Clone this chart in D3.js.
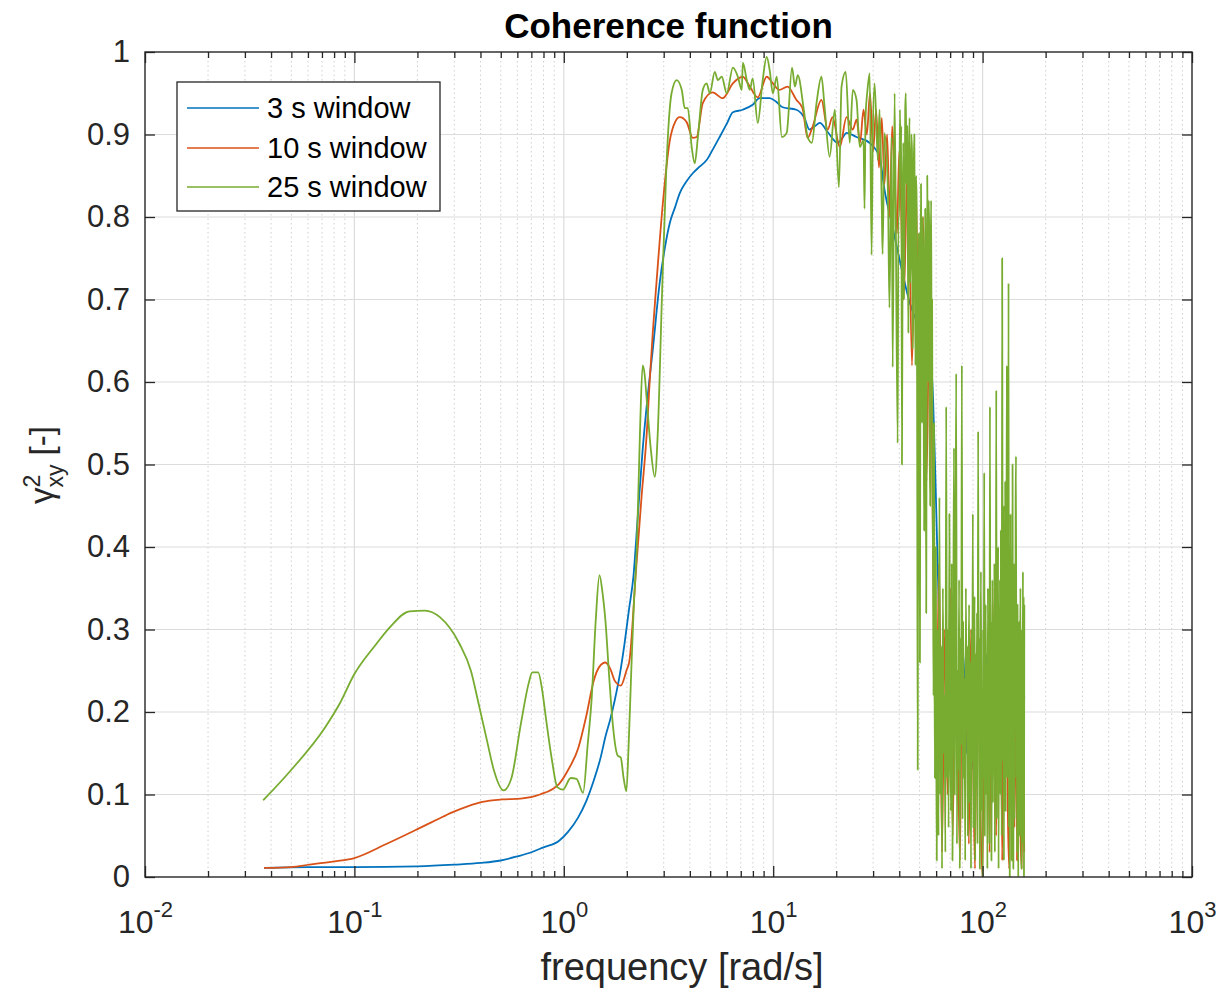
<!DOCTYPE html>
<html><head><meta charset="utf-8">
<script src="https://cdn.jsdelivr.net/npm/d3@7"></script>
<style>
html,body{margin:0;padding:0;background:#fff;}
svg{display:block;font-family:"Liberation Sans",Arial,Helvetica,sans-serif;}
</style></head>
<body>
<svg id="chart" width="1225" height="992"></svg>
<script>
// ---------------- DATA ----------------
const chartTitle = "Coherence function";
const xLabel = "frequency [rad/s]";
const seriesNames = ["3 s window", "10 s window", "25 s window"];
const xMajorTicks = [1e-2, 1e-1, 1e0, 1e1, 1e2, 1e3];
const xTickExponents = ["-2", "-1", "0", "1", "2", "3"];
const yTicks = [0, 0.1, 0.2, 0.3, 0.4, 0.5, 0.6, 0.7, 0.8, 0.9, 1];
const yTickLabels = ["0", "0.1", "0.2", "0.3", "0.4", "0.5", "0.6", "0.7", "0.8", "0.9", "1"];

// 3 s window [frequency rad/s, coherence]
const blue3s = [[0.037,0.011],[0.06,0.012],[0.1,0.012],[0.2,0.013],[0.3,0.015],[0.4,0.017],[0.5,0.02],[0.6,0.025],[0.7,0.03],[0.8,0.036],[0.95,0.044],[1.05,0.055],[1.17,0.072],[1.28,0.092],[1.39,0.117],[1.5,0.145],[1.58,0.17],[1.67,0.192],[1.75,0.214],[1.85,0.245],[1.95,0.283],[2.05,0.325],[2.15,0.364],[2.26,0.44],[2.38,0.518],[2.52,0.585],[2.66,0.639],[2.87,0.72],[3.05,0.765],[3.21,0.793],[3.4,0.812],[3.58,0.829],[3.85,0.843],[4.13,0.853],[4.45,0.861],[4.81,0.869],[5.15,0.882],[5.55,0.897],[6.0,0.913],[6.42,0.927],[7.16,0.93],[7.98,0.936],[8.62,0.944],[9.62,0.944],[10.3,0.94],[11.1,0.933],[12.9,0.93],[14.1,0.92],[14.9,0.906],[15.8,0.91],[16.7,0.914],[18.2,0.903],[20.3,0.89],[21.3,0.895],[22.4,0.902],[25,0.897],[28.8,0.89],[32.2,0.873],[34,0.833],[37,0.79],[40,0.75],[44.9,0.696],[50,0.665],[55.8,0.635],[58,0.58],[60,0.45],[63,0.25],[66,0.16],[69,0.26],[72,0.14],[75,0.22],[78,0.17],[81,0.27],[84,0.15],[87,0.24],[90,0.13],[93,0.20],[96,0.25],[99,0.14],[102,0.19],[105,0.27],[108,0.13],[111,0.22],[114,0.17],[117,0.25],[120,0.14],[123,0.23],[126,0.19],[129,0.27],[132,0.15],[135,0.21],[138,0.12],[141,0.23],[144,0.17],[147,0.25],[150,0.14],[153,0.20],[156,0.16],[158,0.22]];

// 10 s window
const red10s = [[0.037,0.011],[0.05,0.012],[0.061,0.015],[0.08,0.019],[0.1,0.023],[0.142,0.04],[0.2,0.058],[0.25,0.07],[0.291,0.078],[0.35,0.086],[0.408,0.091],[0.504,0.094],[0.623,0.095],[0.769,0.1],[0.95,0.113],[1.05,0.13],[1.175,0.157],[1.28,0.195],[1.39,0.238],[1.48,0.255],[1.58,0.26],[1.67,0.252],[1.75,0.238],[1.87,0.232],[1.99,0.25],[2.06,0.263],[2.21,0.37],[2.35,0.46],[2.49,0.538],[2.57,0.60],[2.66,0.66],[2.77,0.72],[2.98,0.82],[3.21,0.893],[3.4,0.915],[3.58,0.921],[3.86,0.915],[4.13,0.896],[4.31,0.897],[4.61,0.938],[5.14,0.951],[5.74,0.944],[6.42,0.962],[7.16,0.97],[7.73,0.958],[8.44,0.945],[9.31,0.97],[9.96,0.962],[10.7,0.954],[11.7,0.958],[12.9,0.942],[13.8,0.932],[14.6,0.896],[15.4,0.909],[17,0.942],[18.2,0.906],[19.2,0.921],[20.8,0.885],[22.4,0.921],[24,0.906],[25,0.918],[26,0.89],[27,0.93],[28,0.90],[29,0.95],[30,0.88],[31,0.93],[32,0.86],[33,0.92],[34,0.84],[35,0.90],[36,0.80],[37,0.91],[38,0.85],[39,0.78],[40,0.88],[42,0.70],[44,0.88],[46,0.62],[48,0.84],[50,0.55],[52,0.80],[54,0.48],[56,0.75],[58,0.40],[60,0.15],[62,0.38],[64,0.03],[66,0.30],[68,0.10],[70,0.35],[72,0.05],[74,0.28],[76,0.18],[78,0.02],[80,0.32],[82,0.12],[84,0.25],[86,0.04],[88,0.30],[90,0.15],[92,0.01],[94,0.27],[96,0.20],[98,0.06],[100,0.00],[102,0.31],[104,0.10],[106,0.24],[108,0.03],[110,0.29],[112,0.16],[114,0.35],[116,0.05],[118,0.22],[120,0.12],[122,0.30],[124,0.02],[126,0.26],[128,0.18],[130,0.33],[132,0.08],[134,0.01],[136,0.28],[138,0.14],[140,0.24],[142,0.06],[144,0.31],[146,0.02],[148,0.20],[150,0.27],[152,0.04],[154,0.01],[156,0.23],[158,0.03]];

// 25 s window, low/mid frequency part
const green25sLow = [[0.0367,0.093],[0.05,0.13],[0.0723,0.181],[0.085,0.21],[0.1,0.246],[0.125,0.28],[0.148,0.303],[0.183,0.322],[0.217,0.323],[0.256,0.315],[0.317,0.283],[0.36,0.25],[0.392,0.21],[0.43,0.165],[0.464,0.129],[0.515,0.105],[0.561,0.119],[0.623,0.185],[0.68,0.235],[0.707,0.248],[0.754,0.248],[0.79,0.225],[0.82,0.194],[0.88,0.14],[0.931,0.109],[0.99,0.106],[1.08,0.12],[1.15,0.119],[1.236,0.102],[1.3,0.16],[1.36,0.218],[1.42,0.31],[1.48,0.366],[1.53,0.345],[1.58,0.311],[1.65,0.24],[1.72,0.181],[1.81,0.147],[1.87,0.145],[1.93,0.12],[1.99,0.104],[2.04,0.16],[2.1,0.25],[2.16,0.33],[2.23,0.396],[2.31,0.538],[2.38,0.62],[2.43,0.61],[2.49,0.578],[2.6,0.52],[2.72,0.485],[2.81,0.538],[2.94,0.70],[3.09,0.861],[3.27,0.95],[3.46,0.966],[3.66,0.954],[3.78,0.932],[3.91,0.932],[4.08,0.885],[4.22,0.865],[4.37,0.897],[4.61,0.954],[4.81,0.962],[4.98,0.95],[5.26,0.976],[5.44,0.966],[5.68,0.97],[6.0,0.95],[6.42,0.981],[6.78,0.97],[7.08,0.954],[7.16,0.987],[7.48,0.966],[7.73,0.954],[7.98,0.968],[8.44,0.914],[8.91,0.966],[9.31,0.994],[9.62,0.978],[9.96,0.95],[10.4,0.97],[11.0,0.897],[11.6,0.902],[12.3,0.981],[12.7,0.958],[13.1,0.972],[14.0,0.93],[14.6,0.897],[15.3,0.89],[16.1,0.938],[17.0,0.97],[17.6,0.933],[18.6,0.873],[19.7,0.93],[20.6,0.836],[21.2,0.958],[22.2,0.976],[23.2,0.89],[24,0.954],[25,0.942],[25.9,0.885],[27,0.893],[27.3,0.81],[27.6,0.92],[28.2,0.954],[28.9,0.974],[29.5,0.754],[29.9,0.902],[30.5,0.962],[31.6,0.869],[32.2,0.93],[33,0.812],[33.3,0.755],[34,0.902],[35.3,0.833],[35.9,0.69],[36.8,0.897],[37.2,0.618],[38,0.95],[39.3,0.526],[39.6,0.80],
[40.0,0.80],[40.3,0.93],[40.6,0.86],[40.9,0.91],[41.2,0.50],[41.5,0.78],[41.8,0.89],[42.1,0.70],[42.4,0.78],[42.7,0.93],[43.0,0.95],[43.3,0.84],[43.6,0.91],[43.9,0.80],[44.2,0.66],[44.5,0.88],[44.8,0.92],[45.1,0.72],[45.4,0.76],[45.7,0.90],[46.0,0.88],[46.3,0.64],[46.6,0.70],[46.9,0.86],[47.2,0.90],[47.5,0.74],[47.8,0.62],[48.1,0.85],[48.4,0.82],[48.7,0.55],[49.0,0.13],[49.3,0.70],[49.6,0.78],[49.9,0.60],[50.2,0.26],[50.5,0.72],[50.8,0.84],[51.1,0.66],[51.4,0.55],[51.7,0.80],[52.0,0.76],[52.3,0.58],[52.6,0.42],[52.9,0.70],[53.2,0.81],[53.5,0.62],[53.8,0.32],[54.1,0.66],[54.4,0.85],[54.7,0.74],[55.0,0.60],[55.3,0.82],[55.6,0.78],[55.9,0.52],[56.2,0.45],[56.5,0.75],[56.8,0.82],[57.1,0.60],[57.4,0.70],[57.7,0.46],[58.0,0.38],[58.3,0.22],[58.6,0.55],[58.9,0.30],[59.2,0.12],[59.5,0.36],[59.8,0.40],[60.1,0.18],[60.4,0.02],[60.7,0.25]];

// 25 s window, high-frequency part on the FFT grid (start 61 rad/s, step 0.6 rad/s)
const green25sHFStart = 61.0;
const green25sHFStep = 0.6;
const green25sHF = [
0.30,0.05,0.46,0.10,0.28,0.01,0.35,0.15,0.22,0.03,0.57,0.12,0.30,0.06,0.44,0.18,
0.08,0.38,0.02,0.27,0.52,0.10,0.33,0.61,0.04,0.25,0.13,0.36,0.01,0.29,0.16,0.62,0.07,
0.31,0.12,0.24,0.02,0.35,0.18,0.28,0.05,0.22,0.33,0.09,0.26,0.01,0.30,0.14,0.44,0.06,0.23,0.34,0.02,0.27,0.11,0.32,0.04,0.54,0.17,0.29,0.01,0.25,0.37,0.08,0.21,0.00,
0.30,0.12,0.49,0.05,0.26,0.33,0.10,0.22,0.01,0.35,0.16,0.28,0.04,0.57,0.13,0.31,0.02,0.24,0.36,0.09,0.27,0.14,0.38,0.03,0.29,0.20,0.59,0.07,0.33,0.15,0.40,0.01,0.28,0.18,
0.36,0.10,0.42,0.22,0.05,0.75,0.30,0.14,0.45,0.02,0.33,0.19,0.48,0.08,0.27,0.36,0.62,0.12,0.40,0.25,0.72,0.06,0.35,0.00,0.29,0.44,0.11,0.31,0.02,0.26,0.50,0.15,0.01,
0.22,0.38,0.07,0.30,0.18,0.45,0.51,0.12,0.28,0.03,0.33,0.20,0.00,0.26,0.14,0.31,0.05,0.24,0.35,0.09,0.27,0.01,0.22,0.30,0.12,0.37,0.04,0.34,0.00,0.33];

const seriesColors = ["#0072BD", "#D95319", "#77AC30"];

// ---------------- CHART ----------------
const svg = d3.select("#chart");
const L = 145, R = 1192, T = 52, B = 877;
const x = d3.scaleLog().domain([1e-2, 1e3]).range([L, R]);
const y = d3.scaleLinear().domain([0, 1]).range([B, T]);
const axisColor = "#262626";

const green25s = green25sLow.concat(green25sHF.map((v, i) => [green25sHFStart + i * green25sHFStep, v]));
const allSeries = [blue3s, red10s, green25s];

// minor tick values (2..9 x decade)
const minorTicks = [];
for (let e = -2; e < 3; e++) for (let k = 2; k <= 9; k++) minorTicks.push(k * Math.pow(10, e));

// grid
const grid = svg.append("g");
grid.selectAll(".xminor").data(minorTicks).join("line")
  .attr("x1", d => x(d)).attr("x2", d => x(d)).attr("y1", T).attr("y2", B)
  .attr("stroke", "#cfcfcf").attr("stroke-width", 1).attr("stroke-dasharray", "1.5,3");
grid.selectAll(".xmajor").data(xMajorTicks.slice(1, -1)).join("line")
  .attr("x1", d => x(d)).attr("x2", d => x(d)).attr("y1", T).attr("y2", B)
  .attr("stroke", "#dcdcdc").attr("stroke-width", 1.2);
grid.selectAll(".ymajor").data(yTicks.slice(1, -1)).join("line")
  .attr("x1", L).attr("x2", R).attr("y1", d => y(d)).attr("y2", d => y(d))
  .attr("stroke", "#dcdcdc").attr("stroke-width", 1.2);

// lines
svg.append("clipPath").attr("id", "clip").append("rect")
  .attr("x", L).attr("y", T).attr("width", R - L).attr("height", B - T);
const line = d3.line().curve(d3.curveMonotoneX).x(d => x(d[0])).y(d => y(d[1]));
const plot = svg.append("g").attr("clip-path", "url(#clip)");
allSeries.forEach((s, i) => {
  plot.append("path").datum(s).attr("d", line)
    .attr("fill", "none").attr("stroke", seriesColors[i])
    .attr("stroke-width", 1.8).attr("stroke-linejoin", "round");
});

// axes
function styleAxis(g) {
  g.select(".domain").remove();
  g.selectAll(".tick line").attr("stroke", axisColor).attr("stroke-width", 1.3);
}
const fontTick = 31;
// bottom major
const xAxisB = svg.append("g").attr("transform", `translate(0,${B})`)
  .call(d3.axisBottom(x).tickValues(xMajorTicks).tickSizeInner(-11).tickSizeOuter(0).tickPadding(22)
    .tickFormat((d, i) => ""))
  .call(styleAxis);
xAxisB.selectAll(".tick text").each(function (d, i) {
  const t = d3.select(this).attr("fill", axisColor).attr("font-size", 32)
    .attr("text-anchor", "middle").attr("dy", null).attr("y", 56);
  t.append("tspan").text("10");
  t.append("tspan").attr("font-size", 22).attr("dy", -16).text(xTickExponents[i]);
});
svg.append("g").attr("transform", `translate(0,${B})`)
  .call(d3.axisBottom(x).tickValues(minorTicks).tickSizeInner(-6).tickSizeOuter(0).tickFormat(""))
  .call(styleAxis);
// top
svg.append("g").attr("transform", `translate(0,${T})`)
  .call(d3.axisTop(x).tickValues(xMajorTicks).tickSizeInner(-11).tickSizeOuter(0).tickFormat(""))
  .call(styleAxis);
svg.append("g").attr("transform", `translate(0,${T})`)
  .call(d3.axisTop(x).tickValues(minorTicks).tickSizeInner(-6).tickSizeOuter(0).tickFormat(""))
  .call(styleAxis);
// left
const yAxisL = svg.append("g").attr("transform", `translate(${L},0)`)
  .call(d3.axisLeft(y).tickValues(yTicks).tickSizeInner(-10).tickSizeOuter(0).tickPadding(15)
    .tickFormat((d, i) => yTickLabels[i]))
  .call(styleAxis);
yAxisL.selectAll(".tick text").attr("fill", axisColor).attr("font-size", fontTick).attr("x", -15);
// right
svg.append("g").attr("transform", `translate(${R},0)`)
  .call(d3.axisRight(y).tickValues(yTicks).tickSizeInner(-10).tickSizeOuter(0).tickFormat(""))
  .call(styleAxis);

// box
svg.append("rect").attr("x", L).attr("y", T).attr("width", R - L).attr("height", B - T)
  .attr("fill", "none").attr("stroke", axisColor).attr("stroke-width", 1.4);

// title
svg.append("text").attr("x", (L + R) / 2).attr("y", 38).attr("text-anchor", "middle")
  .attr("font-size", 35).attr("font-weight", "bold").attr("fill", "#000").text(chartTitle);
// x label
svg.append("text").attr("x", 682).attr("y", 980).attr("text-anchor", "middle")
  .attr("font-size", 38).attr("fill", axisColor).text(xLabel);
// y label
const yl = svg.append("text").attr("transform", "translate(53,465) rotate(-90)")
  .attr("text-anchor", "middle").attr("font-size", 33).attr("fill", axisColor);
yl.append("tspan").text("γ");
yl.append("tspan").attr("font-size", 23).attr("dy", -13).text("2");
yl.append("tspan").attr("font-size", 23).attr("dx", -13).attr("dy", 23).text("xy");
yl.append("tspan").attr("dy", -10).text(" [-]");

// legend
const lg = svg.append("g");
lg.append("rect").attr("x", 177).attr("y", 82).attr("width", 263).attr("height", 129)
  .attr("fill", "#fff").attr("stroke", axisColor).attr("stroke-width", 1.3);
const rowsY = [108, 148, 187];
seriesNames.forEach((n, i) => {
  lg.append("line").attr("x1", 187).attr("x2", 259).attr("y1", rowsY[i]).attr("y2", rowsY[i])
    .attr("stroke", seriesColors[i]).attr("stroke-width", 1.6);
  lg.append("text").attr("x", 267).attr("y", rowsY[i]).attr("dy", "0.35em")
    .attr("font-size", 29).attr("fill", "#000").text(n);
});
</script>
</body></html>
